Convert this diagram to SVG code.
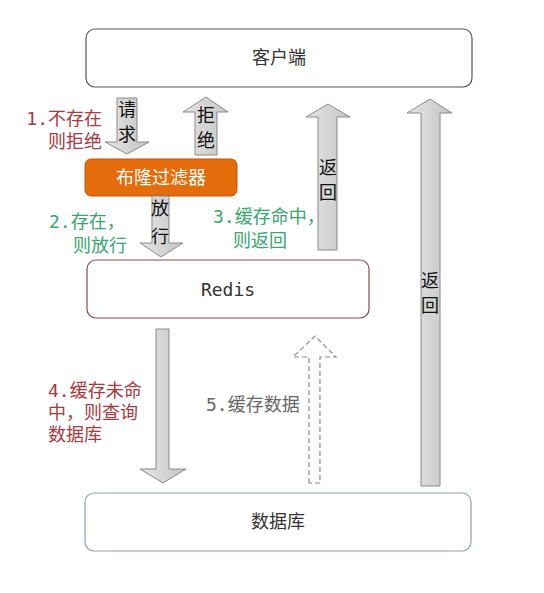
<svg xmlns="http://www.w3.org/2000/svg" width="544" height="593" viewBox="0 0 544 593">
<defs>
<linearGradient id="g" x1="0" y1="0" x2="1" y2="0">
<stop offset="0" stop-color="#e6e6e6"/>
<stop offset="1" stop-color="#c4c4c4"/>
</linearGradient>
<style>
.box{fill:#fff;stroke-width:1.2}
.arr{fill:url(#g);stroke:#8a8a8a;stroke-width:1}
.dash{fill:#fff;stroke:#8a8a8a;stroke-width:1.2;stroke-dasharray:5 3}
.cjk{font-family:"Noto Sans CJK SC","DejaVu Sans",sans-serif;font-size:18px}
.mono{font-family:"DejaVu Sans Mono","Noto Sans CJK SC",monospace;font-size:18px}
.lbl{font-family:"DejaVu Sans Mono","Noto Sans CJK SC",monospace;font-size:18px}
.in{font-family:"Noto Sans CJK SC",sans-serif;font-size:18px;fill:#111;text-anchor:middle}
.red{fill:#a5393f}
.green{fill:#37a56e}
.gray{fill:#666}
</style>
</defs>
<rect width="544" height="593" fill="#fff"/>
<g id="client">
<rect class="box" x="86" y="29" width="386" height="58" rx="9" stroke="#555"/>
<text class="cjk" x="279" y="64" text-anchor="middle" fill="#333">客户端</text>
</g>
<g id="bloom">
<rect x="85" y="159" width="152" height="37" rx="6" fill="#e46c0a" stroke="#c2570a"/>
<text class="cjk" x="161" y="184" text-anchor="middle" fill="#fff">布隆过滤器</text>
</g>
<g id="redis">
<rect class="box" x="87" y="260" width="282" height="58" rx="9" stroke="#8b4a4a"/>
<text class="mono" x="228" y="296" text-anchor="middle" fill="#333">Redis</text>
</g>
<g id="db">
<rect class="box" x="85" y="493" width="386" height="58" rx="9" stroke="#8aa0b8"/>
<text class="cjk" x="278" y="528" text-anchor="middle" fill="#333">数据库</text>
</g>
<g id="connectors">
<path class="arr" d="M117,98 H137 V142 H149 L127,154 L105,142 H117 Z"/>
<text class="in" x="127" y="116">请</text>
<text class="in" x="127" y="141">求</text>
<path class="arr" d="M195,155 V112 H183 L206,97 L228,112 H217 V155 Z"/>
<text class="in" x="206" y="122">拒</text>
<text class="in" x="206" y="147">绝</text>
<path class="arr" d="M152,196 H169 V243 H183 L161,257 L140,243 H152 Z"/>
<text class="in" x="160" y="215">放</text>
<text class="in" x="160" y="243">行</text>
<path class="arr" d="M318,250 V117 H306 L328,104 L350,117 H337 V250 Z"/>
<text class="in" x="328" y="174">返</text>
<text class="in" x="328" y="199">回</text>
<path class="arr" d="M421,486 V113 H407 L430,99 L452,113 H440 V486 Z"/>
<text class="in" x="430" y="287">返</text>
<text class="in" x="430" y="312">回</text>
<path class="arr" d="M156,329 H169 V469 H186 L163,483 L140,469 H156 Z"/>
<path class="dash" d="M309,483 V357 H293 L315,336 L336,357 H320 V483 Z"/>
</g>
<g id="labels">
<text class="lbl red" x="102" y="125" text-anchor="end">1.不存在</text>
<text class="lbl red" x="102" y="148" text-anchor="end">则拒绝</text>
<text class="lbl green" x="49" y="228">2.存在，</text>
<text class="lbl green" x="73" y="252">则放行</text>
<text class="lbl green" x="213" y="223">3.缓存命中，</text>
<text class="lbl green" x="233" y="247">则返回</text>
<text class="lbl red" x="48" y="397">4.缓存未命</text>
<text class="lbl red" x="48" y="419">中，则查询</text>
<text class="lbl red" x="48" y="441">数据库</text>
<text class="lbl gray" x="206" y="411">5.缓存数据</text>
</g>
</svg>
